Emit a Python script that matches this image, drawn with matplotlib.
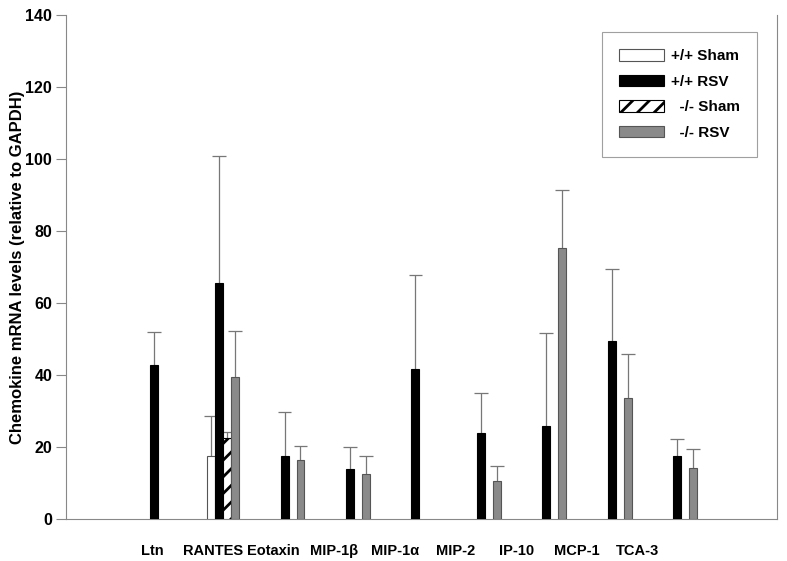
import numpy as np
import matplotlib
matplotlib.use("Agg")
import matplotlib.pyplot as plt
from matplotlib.patches import Patch

plt.rcParams['font.family'] = ['Liberation Sans', 'DejaVu Sans']
plt.rcParams['font.weight'] = 'bold'
plt.rcParams['hatch.linewidth'] = 2.0

categories = ["Ltn", "RANTES", "Eotaxin", "MIP-1β", "MIP-1α", "MIP-2", "IP-10", "MCP-1", "TCA-3"]
series = ["+/+ Sham", "+/+ RSV", "  -/- Sham", "  -/- RSV"]
nan = np.nan
wt_sham = [nan, 17.5, nan, nan, nan, nan, nan, nan, nan]
wt_sham_err = [nan, 28.7, nan, nan, nan, nan, nan, nan, nan]
wt_rsv = [42.8, 65.6, 17.5, 14.0, 41.8, 24.0, 25.8, 49.4, 17.5]
wt_rsv_err = [51.9, 100.8, 29.6, 19.9, 67.7, 35.0, 51.7, 69.4, 22.3]
ko_sham = [nan, 22.4, nan, nan, nan, nan, nan, nan, nan]
ko_sham_err = [nan, 24.2, nan, nan, nan, nan, nan, nan, nan]
ko_rsv = [nan, 39.4, 16.3, 12.4, nan, 10.6, 75.2, 33.7, 14.3]
ko_rsv_err = [nan, 52.3, 20.2, 17.4, nan, 14.7, 91.3, 45.7, 19.4]
yticks = [0, 20, 40, 60, 80, 100, 120, 140]

values = [wt_sham, wt_rsv, ko_sham, ko_rsv]
errs = [wt_sham_err, wt_rsv_err, ko_sham_err, ko_rsv_err]
styles = [
    dict(facecolor='white', edgecolor='#555555', linewidth=0.8),
    dict(facecolor='black', edgecolor='black', linewidth=0.8),
    dict(facecolor='white', edgecolor='black', hatch='//', linewidth=0.8),
    dict(facecolor='#8a8a8a', edgecolor='#555555', linewidth=0.8),
]

fig = plt.figure(figsize=(7.87, 5.61), dpi=100)
ax = fig.add_axes([0.0839, 0.0749, 0.9030, 0.8984])

x = np.arange(len(categories))
w = 0.122
offsets = [-1.5, -0.5, 0.5, 1.5]
cw = 0.105
for vals, er, st, off in zip(values, errs, styles, offsets):
    v = np.array(vals, dtype=float)
    e = np.array(er, dtype=float)
    xs = x + off * w
    m = ~np.isnan(v)
    ax.bar(xs[m], v[m], width=w, zorder=3, **st)
    me = m & ~np.isnan(e)
    ax.vlines(xs[me], v[me], e[me], color='#777777', linewidth=0.9, zorder=2)
    ax.hlines(e[me], xs[me] - cw, xs[me] + cw, color='#777777', linewidth=0.9, zorder=2)

ax.set_xlim(-1.40, 9.46)
ax.set_ylim(0, 140)
ax.set_yticks(yticks)
ax.set_yticklabels([str(t) for t in yticks], fontsize=11.5, fontweight='bold')
label_pos = -0.087 + x * 0.928
ax.set_xticks(label_pos)
ax.set_xticklabels(categories, fontsize=10.5, fontweight='bold')
ax.tick_params(axis='x', length=0, pad=18)
ax.tick_params(axis='y', length=7, width=0.8, color='#888888', pad=3, direction='out')
for s in ['left', 'bottom', 'right']:
    ax.spines[s].set_color('#888888')
    ax.spines[s].set_linewidth(0.8)
ax.spines['top'].set_visible(False)
ax.set_ylabel("Chemokine mRNA levels (relative to GAPDH)", fontsize=12, fontweight='bold', labelpad=0)

handles = [Patch(**st) for st in styles]
leg = ax.legend(handles, series, loc='upper right', bbox_to_anchor=(0.9723, 0.966),
                fancybox=False, frameon=True, edgecolor='#888888', fontsize=11,
                handlelength=2.9, handleheight=0.8, labelspacing=0.75,
                borderpad=1.1, handletextpad=0.5, borderaxespad=0)
for t in leg.get_texts():
    t.set_fontweight('bold')
leg.get_frame().set_linewidth(0.8)

fig.savefig("out.png", dpi=100)
